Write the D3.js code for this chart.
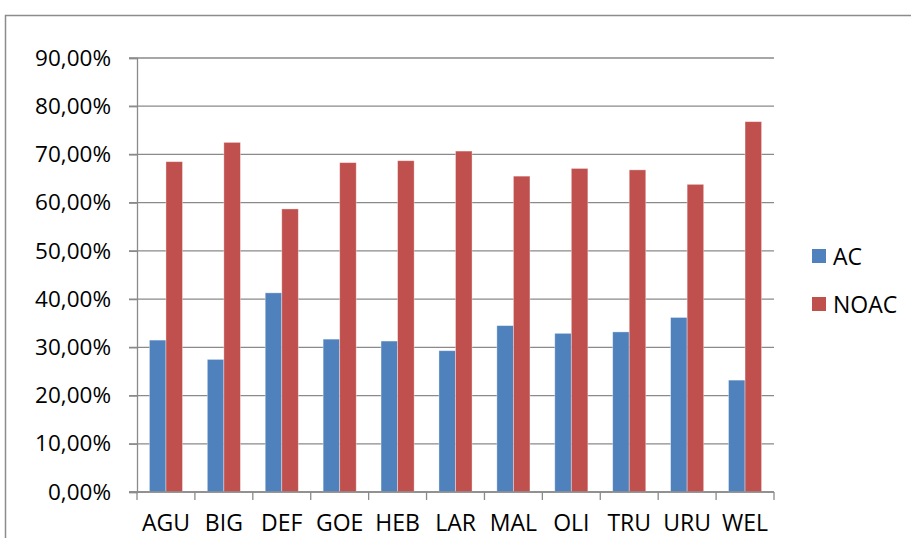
<!DOCTYPE html>
<html>
<head>
<meta charset="utf-8">
<script src="https://cdn.jsdelivr.net/npm/d3@7"></script>
<style>
  body { margin: 0; background: #fff; }
  svg { display: block; font-family: "Open Sans", sans-serif; }
</style>
</head>
<body>
<svg id="chart" width="911" height="538"></svg>
<script>
var categories = ["AGU", "BIG", "DEF", "GOE", "HEB", "LAR", "MAL", "OLI", "TRU", "URU", "WEL"];
var ac_values = [31.5, 27.5, 41.3, 31.7, 31.3, 29.3, 34.5, 32.9, 33.2, 36.2, 23.2];
var noac_values = [68.5, 72.5, 58.7, 68.3, 68.7, 70.7, 65.5, 67.1, 66.8, 63.8, 76.8];
var series_names = ["AC", "NOAC"];
var series_colors = ["#4F81BD", "#C0504D"];
var y_ticks = [0, 10, 20, 30, 40, 50, 60, 70, 80, 90];

var svg = d3.select("#chart");
var plot_left = 137, plot_right = 774, plot_top = 58, plot_bottom = 492;
var grid_color = "#8a8a8a";

// outer chart frame, cut by the picture on the right and bottom
svg.append("path")
    .attr("d", "M5.5,545 V15.5 H920")
    .style("fill", "none")
    .style("stroke", "#8c8c8c")
    .style("stroke-width", 1.5);

var x = d3.scaleBand().domain(categories).range([plot_left, plot_right]).paddingInner(0).paddingOuter(0);
var x_inner = d3.scaleBand().domain(series_names)
    .range([x.bandwidth() * 0.75 / 3.5, x.bandwidth() - x.bandwidth() * 0.75 / 3.5]);
var y = d3.scaleLinear().domain([0, 90]).range([plot_bottom, plot_top]);

// gridlines
svg.selectAll("line.grid")
    .data(y_ticks)
    .enter()
    .append("line")
    .attr("class", "grid")
    .attr("x1", plot_left - 8)
    .attr("x2", plot_right)
    .attr("y1", d => y(d))
    .attr("y2", d => y(d))
    .style("stroke", grid_color)
    .style("stroke-width", 1.3);

// y axis
var y_axis = svg.append("g")
    .attr("transform", "translate(" + plot_left + ",0)")
    .call(d3.axisLeft(y).tickValues(y_ticks).tickSize(8).tickPadding(10)
        .tickFormat(d => d.toFixed(2).replace(".", ",") + "%"));
y_axis.select(".domain").style("stroke", grid_color).style("stroke-width", 1.3);
y_axis.selectAll(".tick line").style("stroke", grid_color).style("stroke-width", 1.3);
y_axis.selectAll("text")
    .attr("x", -26)
    .attr("font-size", "22.5px")
    .attr("font-family", "Open Sans")
    .style("fill", "#000");

// bars
var rows = categories.map((c, i) => ({ cat: c, values: [ac_values[i], noac_values[i]] }));
var groups = svg.selectAll("g.group")
    .data(rows)
    .enter()
    .append("g")
    .attr("class", "group")
    .attr("transform", d => "translate(" + x(d.cat) + ",0)");

groups.selectAll("rect")
    .data(d => d.values.map((v, j) => ({ name: series_names[j], value: v, color: series_colors[j] })))
    .enter()
    .append("rect")
    .attr("x", d => x_inner(d.name))
    .attr("width", x_inner.bandwidth())
    .attr("y", d => y(d.value))
    .attr("height", d => y(0) - y(d.value))
    .style("fill", d => d.color)
    .style("stroke", "rgba(255,255,255,0.45)")
    .style("stroke-width", 0.8);

// x axis
var x_axis = svg.append("g")
    .attr("transform", "translate(0," + plot_bottom + ")")
    .call(d3.axisBottom(x).tickSize(0).tickPadding(23).tickSizeOuter(0));
x_axis.select(".domain").attr("d", "M" + (plot_left - 8) + ",0H" + plot_right).style("stroke", grid_color).style("stroke-width", 1.3);
x_axis.selectAll("text")
    .attr("font-size", "23px")
    .attr("font-family", "Open Sans")
    .style("fill", "#000");

svg.selectAll("line.xtick")
    .data(d3.range(categories.length + 1))
    .enter()
    .append("line")
    .attr("class", "xtick")
    .attr("x1", i => plot_left + i * x.step())
    .attr("x2", i => plot_left + i * x.step())
    .attr("y1", plot_bottom)
    .attr("y2", plot_bottom + 8)
    .style("stroke", grid_color)
    .style("stroke-width", 1.3);

// legend
var legend = svg.selectAll("g.legend")
    .data(series_names)
    .enter()
    .append("g")
    .attr("class", "legend")
    .attr("transform", (d, i) => "translate(812," + (249 + i * 48) + ")");

legend.append("rect")
    .attr("width", 14)
    .attr("height", 14)
    .style("fill", (d, i) => series_colors[i]);

legend.append("text")
    .attr("x", 21)
    .attr("y", 16)
    .attr("font-size", "23px")
    .attr("font-family", "Open Sans")
    .text(d => d);
</script>
</body>
</html>
